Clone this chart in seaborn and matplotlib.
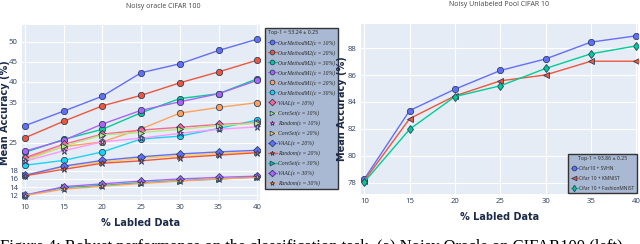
import numpy as np
import pandas as pd
import matplotlib
matplotlib.use("Agg")
import matplotlib.pyplot as plt
import seaborn as sns

# ---- data: noisy oracle CIFAR 100 (left) ----
labeled = [10, 15, 20, 25, 30, 35, 40]

left_names = [
    "OurMethodM2(ε = 10%)", "OurMethodM2(ε = 20%)", "OurMethodM2(ε = 30%)",
    "OurMethodM1(ε = 10%)", "OurMethodM1(ε = 20%)", "OurMethodM1(ε = 30%)",
    "VAAL(ε = 10%)", "CoreSet(ε = 10%)", "Random(ε = 10%)",
    "CoreSet(ε = 20%)", "VAAL(ε = 20%)", "Random(ε = 20%)",
    "CoreSet(ε = 30%)", "VAAL(ε = 30%)", "Random(ε = 30%)",
]
m2_10 = [29.2, 32.8, 36.5, 42.3, 44.5, 47.8, 50.6]
m2_20 = [26.2, 30.3, 34.1, 36.7, 39.8, 42.5, 45.4]
m2_30 = [22.6, 25.8, 28.3, 32.4, 35.9, 37.1, 40.8]
m1_10 = [22.9, 25.6, 29.6, 33.0, 35.1, 37.1, 40.4]
m1_20 = [21.1, 24.0, 25.2, 28.4, 32.3, 33.7, 34.9]
m1_30 = [19.4, 20.6, 22.7, 25.9, 26.6, 28.5, 30.6]
vaal_10 = [21.3, 24.6, 27.1, 28.1, 28.8, 29.5, 29.9]
core_10 = [20.6, 24.1, 26.9, 27.5, 28.3, 29.2, 29.8]
rand_10 = [20.4, 23.0, 25.2, 26.1, 27.3, 28.3, 28.9]
core_20 = [16.9, 19.0, 20.2, 21.1, 21.8, 22.3, 22.7]
vaal_20 = [16.9, 19.2, 20.6, 21.5, 22.2, 22.7, 23.1]
rand_20 = [16.8, 18.4, 19.9, 20.5, 21.3, 21.9, 22.5]
core_30 = [12.0, 13.9, 14.4, 15.1, 15.6, 16.0, 16.5]
vaal_30 = [12.0, 14.1, 14.8, 15.5, 16.0, 16.4, 16.7]
rand_30 = [11.9, 13.5, 14.2, 14.9, 15.5, 16.0, 16.4]
left_values = [m2_10, m2_20, m2_30, m1_10, m1_20, m1_30, vaal_10, core_10,
               rand_10, core_20, vaal_20, rand_20, core_30, vaal_30, rand_30]
left_colors = ["#636EFA", "#EF553B", "#00CC96", "#AB63FA", "#FFA15A", "#19D3F3",
               "#FF6692", "#B6E880", "#FF97FF", "#FECB52", "#636EFA", "#EF553B",
               "#00CC96", "#AB63FA", "#FFA15A"]
left_markers = ["o", "o", "o", "o", "o", "o", "D", ">", "*", ">", "D", "*",
                ">", "D", "*"]
left_yticks = [12, 14, 16, 18, 25, 35, 40, 45, 50]

# ---- data: noisy unlabeled pool CIFAR 10 (right) ----
right_names = ["Cifar10 + SVHN", "Cifar 10 + KMNIST", "Cifar 10 + FashionMNIST"]
svhn = [78.27, 83.36, 84.95, 86.34, 87.20, 88.45, 88.92]
kmnist = [78.15, 82.76, 84.45, 85.57, 86.01, 87.03, 87.03]
fashion = [78.05, 81.97, 84.40, 85.20, 86.49, 87.58, 88.17]
right_values = [svhn, kmnist, fashion]
right_colors = ["#636EFA", "#EF553B", "#00CC96"]
right_markers = ["o", "<", "d"]

df_left = pd.DataFrame({
    "x": labeled * len(left_names),
    "y": np.concatenate(left_values),
    "series": np.repeat(left_names, len(labeled)),
})
df_right = pd.DataFrame({
    "x": labeled * len(right_names),
    "y": np.concatenate(right_values),
    "series": np.repeat(right_names, len(labeled)),
})

sns.set_theme(style="darkgrid", rc={"axes.facecolor": "#E5ECF6",
                                    "grid.color": "white", "grid.linewidth": 0.8})
plt.rcParams["font.family"] = ["Open Sans", "DejaVu Sans"]

fig = plt.figure(figsize=(6.4, 2.44), dpi=100)
ax1 = fig.add_axes([22 / 640, 44 / 244, 238 / 640, 175 / 244])
ax2 = fig.add_axes([361 / 640, 50 / 244, 277 / 640, 170 / 244])

edge = "#2a3f5f"
tick_color = "#2a3f5f"
label_color = "#1c2b4a"

sns.lineplot(data=df_left, x="x", y="y", hue="series", style="series",
             hue_order=left_names, style_order=left_names,
             palette=dict(zip(left_names, left_colors)),
             markers=dict(zip(left_names, left_markers)), dashes=False,
             markersize=4.5, markeredgecolor=edge, markeredgewidth=0.6,
             linewidth=1.0, ax=ax1)
sns.lineplot(data=df_right, x="x", y="y", hue="series", style="series",
             hue_order=right_names, style_order=right_names,
             palette=dict(zip(right_names, right_colors)),
             markers=dict(zip(right_names, right_markers)), dashes=False,
             markersize=4.5, markeredgecolor=edge, markeredgewidth=0.6,
             linewidth=1.0, ax=ax2)

ax1.set_xlim(9.6, 40.35)
ax1.set_ylim(10.8, 54.1)
ax1.set_yticks(left_yticks)
ax2.set_xlim(9.63, 40.2)
ax2.set_ylim(77.15, 89.8)
ax2.set_yticks([78, 80, 82, 84, 86, 88])

for ax in (ax1, ax2):
    ax.set_xticks(labeled)
    ax.tick_params(axis="both", labelsize=5.6, colors=tick_color, length=2, pad=1)
    ax.set_xlabel("% Labled Data", fontsize=7, fontweight="bold", color=label_color,
                  family="DejaVu Sans", labelpad=5)
    ax.set_ylabel("Mean Accuracy (%)", fontsize=7, fontweight="bold",
                  color=label_color, family="DejaVu Sans")
    for s in ax.spines.values():
        s.set_visible(False)
ax1.yaxis.set_label_coords(-12 / 238, 0.5)
ax2.yaxis.set_label_coords(-14 / 277, 0.5)

fig.text(0.255, 0.975, "Noisy oracle CIFAR 100", fontsize=5, color="#444444",
         ha="center", va="center")
fig.text(0.78, 0.983, "Noisy Unlabeled Pool CIFAR 10", fontsize=5, color="#444444",
         ha="center", va="center")

leg_style = dict(facecolor="#A9B9D3", edgecolor="#333333", framealpha=1,
                 fancybox=False, borderpad=0.5, handletextpad=0.3,
                 markerscale=0.75)

h1, l1 = ax1.get_legend_handles_labels()
leg1 = ax1.legend(h1, l1, title="Top-1 = 53.24 ± 0.25", loc="upper left",
                  bbox_to_anchor=(1.02, 0.985), title_fontsize=3.9,
                  labelspacing=0.75, borderaxespad=0, handlelength=1.6,
                  prop={"family": "Liberation Serif", "style": "italic", "size": 4.1},
                  **leg_style)
leg1.get_frame().set_linewidth(1.0)
leg1._legend_box.align = "left"

h2, l2 = ax2.get_legend_handles_labels()
leg2 = ax2.legend(h2, l2, title="Top-1 = 93.86 ± 0.25", loc="lower right",
                  bbox_to_anchor=(1.0, 0.0), fontsize=3.5, title_fontsize=3.8,
                  labelspacing=1.0, borderaxespad=0.2, handlelength=1.5,
                  **leg_style)
leg2.get_frame().set_linewidth(1.0)

fig.text(0.0, -0.012, "Figure 4: Robust performance on the classification task. "
         "(a) Noisy Oracle on CIFAR100 (left)", fontsize=12,
         family="Liberation Serif", ha="left", va="center", color="black")

fig.savefig("out.png", dpi=100)
